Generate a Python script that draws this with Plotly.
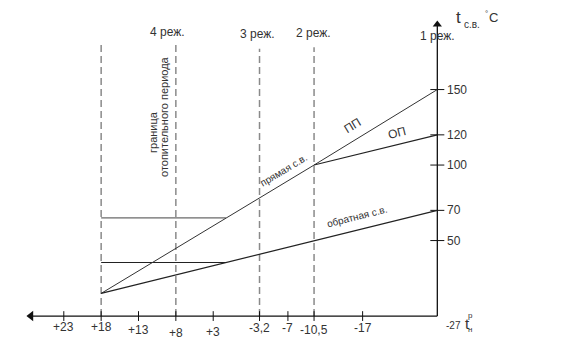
import plotly.graph_objects as go

# ---------------- data ----------------
x_ticks = [23, 18, 13, 8, 3, -3.2, -7, -10.5, -17]
x_tick_labels = ["+23", "+18", "+13", "+8", "+3", "-3,2", "-7", "-10,5", "-17"]
y_ticks = [50, 70, 100, 120, 150]
y_tick_labels = ["50", "70", "100", "120", "150"]

supply_t = [18, -10.5, -27]          # прямая с.в. (ПП)
supply_v = [15, 100, 150]
op_t = [-10.5, -27]                  # ОП
op_v = [100, 120]
return_t = [18, -10.5, -27]          # обратная с.в.
return_v = [15, 50, 70]
flat_supply_t = [18, 1.3]
flat_supply_v = [65, 65]
flat_return_t = [18, 1.3]
flat_return_v = [35.5, 35.5]

boundary_t = [18, 8, -3.2, -10.5]    # вертикальные пунктиры
boundary_top = [181, 181, 177, 178]
mode_labels = ["4 реж.", "3 реж.", "2 реж.", "1 реж."]

t_axis_end = -27
t_axis_start = 27.4
v_axis_top = 194

# ---------------- style ----------------
FONT = "Liberation Sans Narrow, Arial Narrow, Liberation Sans, Arial, sans-serif"
TXT = "#333333"

fig = go.Figure()

# dashed vertical lines
for t, top in zip(boundary_t, boundary_top):
    fig.add_trace(go.Scatter(x=[t, t], y=[0, top], mode="lines",
                             line=dict(color="#8a8a8a", width=1.5, dash="7px,4px"),
                             hoverinfo="skip", showlegend=False))

# axes
fig.add_trace(go.Scatter(x=[t_axis_start, t_axis_end], y=[0, 0], mode="lines",
                         line=dict(color="#111111", width=1.3), showlegend=False, hoverinfo="skip"))
fig.add_trace(go.Scatter(x=[t_axis_end, t_axis_end], y=[0, v_axis_top], mode="lines",
                         line=dict(color="#111111", width=1.3), showlegend=False, hoverinfo="skip"))
fig.add_trace(go.Scatter(x=[t_axis_start], y=[0], mode="markers",
                         marker=dict(symbol="triangle-left", size=9, color="#111111"),
                         showlegend=False, hoverinfo="skip"))
fig.add_trace(go.Scatter(x=[t_axis_end], y=[v_axis_top - 1], mode="markers",
                         marker=dict(symbol="triangle-up", size=8, color="#111111"),
                         showlegend=False, hoverinfo="skip"))

# tick marks
fig.add_trace(go.Scatter(x=x_ticks, y=[0] * len(x_ticks), mode="markers",
                         marker=dict(symbol="line-ns", size=7, line=dict(color="#111111", width=1)),
                         showlegend=False, hoverinfo="skip"))
fig.add_trace(go.Scatter(x=[t_axis_end] * len(y_ticks), y=y_ticks, mode="markers",
                         marker=dict(symbol="line-ew", size=10, line=dict(color="#111111", width=1)),
                         showlegend=False, hoverinfo="skip"))

# graph lines
fig.add_trace(go.Scatter(x=flat_supply_t, y=flat_supply_v, mode="lines",
                         line=dict(color="#444444", width=1), showlegend=False, hoverinfo="skip"))
fig.add_trace(go.Scatter(x=flat_return_t, y=flat_return_v, mode="lines",
                         line=dict(color="#222222", width=1.1), showlegend=False, hoverinfo="skip"))
fig.add_trace(go.Scatter(x=supply_t, y=supply_v, mode="lines",
                         line=dict(color="#333333", width=1), showlegend=False, hoverinfo="skip"))
fig.add_trace(go.Scatter(x=op_t, y=op_v, mode="lines",
                         line=dict(color="#222222", width=1.1), showlegend=False, hoverinfo="skip"))
fig.add_trace(go.Scatter(x=return_t, y=return_v, mode="lines",
                         line=dict(color="#222222", width=1.2), showlegend=False, hoverinfo="skip"))

ann = []
label_dy = [-11, -11, -14, -17, -16, -12, -12, -14, -12]
for t, lab, dy in zip(x_ticks, x_tick_labels, label_dy):
    ann.append(dict(x=t, y=0, text=lab, showarrow=False, yshift=dy,
                    xanchor="center", yanchor="middle",
                    font=dict(size=12, color=TXT, family=FONT)))
for v, lab in zip(y_ticks, y_tick_labels):
    ann.append(dict(x=t_axis_end, y=v, text=lab, showarrow=False, xanchor="left", xshift=8,
                    yanchor="middle",
                    font=dict(size=12, color=TXT, family=FONT)))

# text labels (paper coordinates from pixel positions)
W, H = 562, 344
def P(px, py):
    return px / W, 1 - py / H

def txt(px, py, s, size=12, angle=0, xanchor="center"):
    x, y = P(px, py)
    ann.append(dict(x=x, y=y, xref="paper", yref="paper", text=s, showarrow=False,
                    textangle=angle, xanchor=xanchor, yanchor="middle",
                    font=dict(size=size, color=TXT, family=FONT)))

for (px, py), lab in zip([(167, 32), (257, 34), (313, 33), (437, 36)], mode_labels):
    txt(px, py, lab, 12)

txt(153, 132, "граница", 11, -90)
txt(164, 117, "отопительного периода", 11, -90)
txt(283, 170, "прямая с.в.", 10, -31)
txt(352, 126, "ПП", 12, -31)
txt(397, 133, "ОП", 12, -14)
txt(357, 216, "обратная с.в.", 10, -14)

# axis titles
txt(454, 18, "t", 17, 0, "left")
txt(462, 24, "с.в.", 10, 0, "left")
txt(483, 14, "°", 8, 0, "left")
txt(487, 18, "C", 13, 0, "left")
txt(444, 325, "-27", 10, 0, "left")
txt(463, 323, "t", 15, 0, "left")
txt(470, 315, "р", 8, 0, "center")
txt(470, 329, "н", 8, 0, "center")

fig.update_layout(
    width=W, height=H,
    margin=dict(l=0, r=0, t=0, b=0),
    paper_bgcolor="white", plot_bgcolor="white",
    xaxis=dict(range=[31.54, -43.69], visible=False, fixedrange=True),
    yaxis=dict(range=[-18.5, 209.3], visible=False, fixedrange=True),
    annotations=ann,
    showlegend=False,
)

fig.write_html("out.html")
